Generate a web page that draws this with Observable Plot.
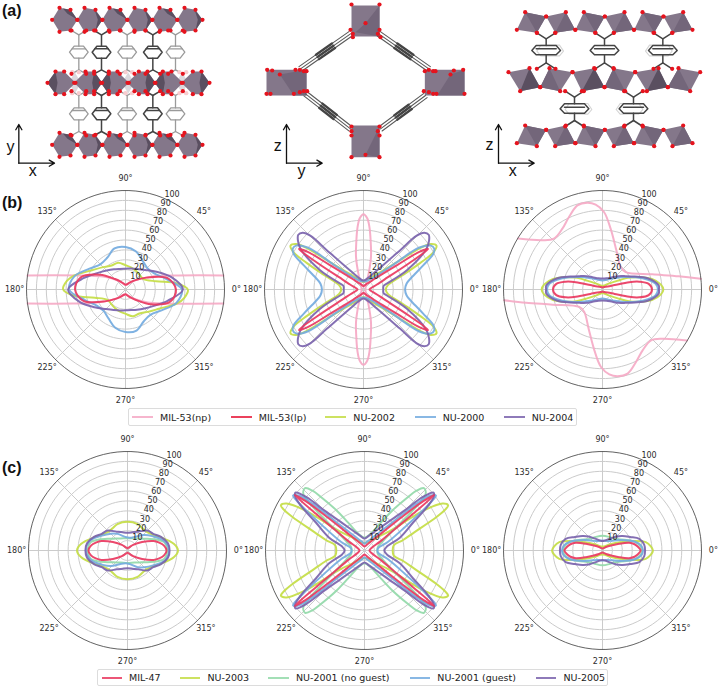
<!DOCTYPE html>
<html><head><meta charset="utf-8">
<script src="https://cdn.jsdelivr.net/npm/d3@7"></script>
<script src="https://cdn.jsdelivr.net/npm/@observablehq/plot@0.6"></script>
<style>
html,body{margin:0;padding:0;background:#fff}
#page{position:relative;width:718px;height:688px;overflow:hidden;font-family:"DejaVu Sans",sans-serif}
#page svg{position:absolute;background:transparent}
.tag{position:absolute;left:2px;font:bold 16px "Liberation Sans",sans-serif;color:#111;line-height:16px}
.legend{position:absolute;border:1px solid #dcdcdc;border-radius:2px;box-sizing:border-box;background:#fff}
.legend i{position:absolute;height:2px;top:7px;opacity:.85}
.legend span{position:absolute;top:50%;transform:translateY(-50%);font-size:9.5px;color:#222;white-space:nowrap}
</style></head><body><div id="page"></div>
<script>
// ---------- colours and legends ----------
const pink="#f5a8c4", red="#e9385f", lime="#c4dd45", blue="#74abdf", purple="#7a63ad", green="#93d9a9";
const legendB=[["MIL-53(np)",pink],["MIL-53(lp)","#e8203f"],["NU-2002",lime],["NU-2000",blue],["NU-2004",purple]];
const legendC=[["MIL-47",red],["NU-2003",lime],["NU-2001 (no guest)",green],["NU-2001 (guest)",blue],["NU-2005",purple]];

// ---------- polar readings: [angle in degrees], [radial value] ----------
// Row (b), panel 1 — half turn; the other half follows by 180° symmetry
const a15=[0,15,30,45,60,75,90,105,120,135,150,165];
const b1lp=[51,44,24,13,8,5.5,4.7,6,9,15,30,47];
const b1n2002A=[0,7,15,30,45,60,75,90,105,120,135,150,165,172], b1n2002R=[63,52,32,21,20.5,21.5,23,24.5,28,28,32,39,54,60];
const b1n2000=[57,42,33,31,34,40,43,43,37,36,42,53];
const b1n2004=[58,48,36,28,24,22,21,21.5,23.5,27,33,44];
const b1npA=[8.2,15,20,30,45,60,90,120,135,150,160,171.8];
const b1npR=[100,55,41,24,12.7,7,4.7,8,14,26,41,100];
// Row (b), panel 2 — quarter turn
const b2npA=[0,45,65,72,77,81,84.5,87,90], b2npR=[2,3,6.3,16.6,33.5,47,63,72,76];
const b2lpA=[0,10,20,25,30,32,34,36,40,45,60,75,90], b2lpR=[6,7.5,14,22,54,77,68,42,23,14,6.5,4.3,3.4];
const b2n2002A=[0,10,20,25,28,31,34,36,40,45,60,75,90], b2n2002R=[22.5,25,42,63,80,86,82,72,40,26,13,9,7.5];
const b2n2000A=[0,8,14,22,27,30,33.4,37,40,45,51,65,88], b2n2000R=[42,44,50,65,79,82.5,81,70,38,22,15,10,8];
const b2n2004A=[0,10,14,24,33,37,40,43,45.4,47,55,70,90], b2n2004R=[20,20.5,24,48,76,83,86,84,76,54,23,12,9];
// Row (b), panel 3
const b3npA=[6.2,9.8,16.9,37,51,70.5,82.4,88.9,94.6,99.9,106.6,114.8,123.4,133.7,140.7,148.9];
const b3npR=[100,78.4,52.6,29.3,29.2,42,62,78.3,86,89,88.7,80.7,73.6,71,78.5,99.5];
const b3lpA=[0,7,12,15.4,20,30,60,90], b3lpR=[50,47,38,28,13,6,3,2];
const b3n2002A=[0,5,12,18,23.6,30,45,60,90], b3n2002R=[61.5,59,51,40,30,18,8,5,3.5];
const b3n2000A=[0,6,12,20,30,45,60,90], b3n2000R=[56,54,47,36,25,16,12,9];
const b3n2004A=[0,4,14,22,30,40,51,70,90], b3n2004R=[57,57,47,35,27,21,16,12,11];
// Row (c), panel 1
const c1m47A=[0,8,14,20,30,45,60,90], c1m47R=[39.5,37,33,28,17,8,4,2.3];
const c1n2003A=[0,8,22,30,42,55,69,90], c1n2003R=[51,47.5,36,31,27.4,27,28.5,29];
const c1nogA=[0,12.8,20,30,45,60,90], c1nogR=[40,38,32,23.5,17,14,12.5];
const c1guestR=[42,38,29,23,16,13,14,19.6,24,30,39], c1guestA=[0,15,30,43,60,81,100,121,135,150,165];
const c1n2005A=[0,10,22,33,45,60,75,90], c1n2005R=[42.5,41.5,36.5,31,28.5,22,19,18];
// Row (c), panel 2
const c2m47A=[0,20,30,35,37,38.5,40,42,45,60,75,90], c2m47R=[5,7.5,18.5,36.5,60,90,78,49.5,27,8.5,5,4];
const c2n2003A=[0,10,15,20,25,27,28.4,31,34,38,45,60,90], c2n2003R=[28.5,30,40,53.5,80.6,92,96,92,72,30,20,11,7.5];
const c2nogA=[0,15,25,34.5,38,42.7,46.4,49,51,55,59.5,70,90], c2nogR=[13,14,19,33,50,84,87,80,69,50,33,18,13];
const c2guestA=[0,10,20,30,35,37.5,40,42,45,50,60,75,90], c2guestR=[13,14,25,47,75,91,86,70,41,25,14,9,7];
const c2n2005A=[0,10,20,30,35,38,40,42.5,45,50,60,75,90], c2n2005R=[20,23,38,57,78,89,91,80,57,38,23,15,12];
// Row (c), panel 3
const c3m47A=[0,6,11,16,22,30,45,60,90], c3m47R=[38.5,36,33,28,18,10,5,3,2];
const c3n2003A=[0,5,11,17,23,30,45,60,90], c3n2003R=[51,49,44.5,33,22,15,8,5,4];
const c3nogA=[0,8,15,22,30,45,60,90], c3nogR=[40,38,34,28,22,17,15.5,15];
const c3guestA=[0,8,15,22,30,45,60,90], c3guestR=[41,39,34,27,21,14,11,10];
const c3n2005A=[0,8,17.6,26,35.6,45,60,75,90], c3n2005R=[43,42.5,39,31,25,20,13.5,10.5,9.5];

// axis text
const radialTicks=[10,20,30,40,50,60,70,80,90,100];
const spokeAngles=[0,45,90,135,180,225,270,315];

// ---------- helpers for the polar panels ----------
const rad=d=>d*Math.PI/180;
const X=d=>d.r*Math.cos(rad(d.a)), Y=d=>d.r*Math.sin(rad(d.a));
function halfTurn(A,R){
  const p=A.map((a,i)=>({a,r:R[i]}));
  return [...p,...p.map(d=>({a:d.a+180,r:d.r}))];
}
function quarter(A,R){
  const A2=[...A],R2=[...R];
  for(let i=A.length-2;i>0;i--){A2.push(180-A[i]);R2.push(R[i]);}
  return halfTurn(A2,R2);
}
function arcs(A,R){
  const p=A.map((a,i)=>({a,r:R[i],k:0}));
  return [...p,...p.map(d=>({a:d.a+180,r:d.r,k:1}))];
}
const page=document.getElementById("page");
function polar(cx,cy,curves,opens){
  const ring=d3.range(0,360,4);
  const gridData=radialTicks.flatMap(t=>ring.map(a=>({a,r:t,t})));
  const marks=[
    Plot.line(gridData.filter(d=>d.t<100),{x:X,y:Y,z:"t",stroke:"#cbcbcb",strokeWidth:1,curve:"linear-closed"}),
    Plot.link(spokeAngles,{x1:0,y1:0,x2:a=>100*Math.cos(rad(a)),y2:a=>100*Math.sin(rad(a)),stroke:"#cbcbcb",strokeWidth:1}),
  ];
  for(const o of opens||[]) marks.push(Plot.line(o.d,{x:X,y:Y,z:"k",stroke:o.c,strokeWidth:2,strokeOpacity:.9,curve:"catmull-rom"}));
  for(const c of curves) marks.push(Plot.line(c.d,{x:X,y:Y,stroke:c.c,strokeWidth:2,strokeOpacity:.92,curve:"catmull-rom-closed"}));
  marks.push(
    Plot.line(ring.map(a=>({a,r:100})),{x:X,y:Y,stroke:"#3a3a3a",strokeWidth:0.8,curve:"linear-closed"}),
    Plot.text(radialTicks,{x:t=>t*Math.cos(rad(67.5)),y:t=>t*Math.sin(rad(67.5)),text:t=>String(t),textAnchor:"start",dx:1,dy:-4,fontSize:8,fill:"#2b2b2b"}),
    Plot.text(spokeAngles,{x:a=>112*Math.cos(rad(a)),y:a=>112*Math.sin(rad(a)),text:a=>a+"°",fontSize:8,fill:"#2b2b2b"})
  );
  const svg=Plot.plot({width:240,height:240,margin:0,
    x:{domain:[-121.212,121.212],axis:null},y:{domain:[-121.212,121.212],axis:null},
    style:{fontFamily:"DejaVu Sans",background:"transparent"},marks});
  svg.style.left=(cx-120)+"px"; svg.style.top=(cy-120)+"px";
  page.appendChild(svg);
}

// ---------- panel (a): structure drawings, in reference units ----------
const polyRed="#e5141e", octaLight="#84778a", octaDark="#5a4f60", octaMid="#73667a", bondDark="#444", bondGray="#9a9a9a";
const rowsTopX=[193,268,343,418,493,568], rowsMidX=[183,263,343,423,505,585];
const linkX=[235,303,380,457,525];
const axes1={ox:55,oy:488,v:"y",h:"x",vx:30,vy:438,hx:97,hy:512};
const axes2={ox:138,oy:488,v:"z",h:"y",vx:112,vy:435,hx:183,hy:510};
const axes3={ox:60,oy:488,v:"z",h:"x",vx:33,vy:432,hx:103,hy:512};

function struct(left,ax,polys,lines,atoms,ghostAtoms){
  const marks=[];
  for(const [c,group] of polys) marks.push(Plot.line(group,{x:"x",y:"y",z:"id",fill:c,stroke:"none"}));
  for(const l of lines) marks.push(Plot.line(l.d,{x:"x",y:"y",z:"id",stroke:l.c,strokeWidth:l.w}));
  if(ghostAtoms) marks.push(Plot.dot(ghostAtoms,{x:d=>d[0],y:d=>d[1],r:2.2,fill:"#f7cdd0"}));
  marks.push(Plot.dot(atoms,{x:d=>d[0],y:d=>d[1],r:2.1,fill:polyRed}));
  marks.push(
    Plot.arrow([ax],{x1:"ox",y1:"oy",x2:"ox",y2:d=>d.oy-116,stroke:"#111",strokeWidth:1.3,headLength:7,bend:0,inset:0}),
    Plot.arrow([ax],{x1:"ox",y1:"oy",x2:d=>d.ox+107,y2:"oy",stroke:"#111",strokeWidth:1.3,headLength:7,bend:0,inset:0}),
    Plot.text([ax],{x:"vx",y:"vy",text:"v",fontSize:16,fontFamily:"Liberation Sans",fill:"#111"}),
    Plot.text([ax],{x:"hx",y:"hy",text:"h",fontSize:16,fontFamily:"Liberation Sans",fill:"#111"})
  );
  const svg=Plot.plot({width:240,height:186,margin:0,x:{domain:[0,720],axis:null},y:{domain:[558,0],axis:null},
    style:{fontFamily:"DejaVu Sans",background:"transparent"},marks});
  svg.style.left=left+"px"; svg.style.top="0px";
  page.appendChild(svg);
}
let pid=0;
const poly=pts=>{const id=pid++;return pts.map(p=>({x:p[0],y:p[1],id}));};

// structure 1
(function(){
  const light=[],dark=[],ghost=[],atoms=[],ghostA=[];
  const hexT=[[-38,0],[-16,-36],[17,-30],[38,0],[17,32],[-16,36]];
  const hexM=[[-42,0],[-18,-34],[8,-34],[42,0],[8,34],[-18,34]];
  rowsTopX.forEach((x,i)=>{
    for(const y of [58,433]){
      light.push(...poly(hexT.map(o=>[x+o[0],y+o[1]])));
      dark.push(...poly((i%2?[[14,-31],[38,0],[17,32],[24,0]]:[[-6,-34],[17,-30],[38,0],[8,-18]]).map(o=>[x+o[0],y+o[1]])));
      hexT.forEach(o=>atoms.push([x+o[0],y+o[1]]));
    }
  });
  rowsMidX.forEach((x,i)=>{
    const y=247, m=i%2?-1:1;
    light.push(...poly(hexM.map(o=>[x+o[0]*m,y+o[1]])));
    dark.push(...poly([[-42,0],[-18,-34],[-12,0],[-18,34]].map(o=>[x+o[0]*m,y+o[1]])));
    hexM.forEach(o=>atoms.push([x+o[0]*m,y+o[1]]));
    if(i%2==0&&i<5){ghost.push(...poly([[x+40,215],[x+58,247],[x+40,280],[x+22,247]]));ghostA.push([x+32,215],[x+52,215],[x+32,278],[x+52,278]);}
  });
  const gray=[],blk=[];
  linkX.forEach((x,i)=>{
    const t=i%2?blk:gray;
    for(const [y,up,dn] of [[155,90,220],[340,272,405]]){
      t.push(...poly([[x-28,y],[x-14,y-18],[x+14,y-18],[x+28,y],[x+14,y+18],[x-14,y+18],[x-28,y]]));
      t.push(...poly([[x,y-18],[x,up+13]]), ...poly([[x-22,up],[x,up+13],[x+22,up]]));
      t.push(...poly([[x,y+18],[x,dn-12]]), ...poly([[x-22,dn],[x,dn-12],[x+22,dn]]));
      t.push(...poly([[x-20,y-10],[x+20,y-10]]));
      atoms.push([x-22,up],[x+22,up],[x-22,dn],[x+22,dn]);
    }
  });
  struct(0,axes1,[["#dcd8dd",ghost],[octaLight,light],[octaDark,dark]],
    [{d:gray,c:bondGray,w:1.3},{d:blk,c:bondDark,w:1.5}],atoms,ghostA);
})();

// structure 2
(function(){
  const sq=[[333,417,15,108],[78,198,208,285],[553,672,208,285],[333,417,375,470]];
  const light=sq.map(s=>poly([[s[0],s[2]],[s[1],s[2]],[s[1],s[3]],[s[0],s[3]]])).flat();
  const dark=[[[375,68],[417,15],[417,108],[345,95]],[[118,222],[198,208],[198,285],[160,285]],[[630,222],[672,208],[672,285],[590,285]],[[375,463],[417,378],[417,470]]].map(poly).flat();
  const atoms=[[333,12],[417,12],[375,68],[330,88],[337,100],[337,110],[417,88],[412,100],[420,110],
    [80,208],[118,222],[78,280],[165,208],[178,208],[190,212],[198,212],[160,280],[178,275],[190,272],[200,272],[95,210],[90,280],
    [668,208],[630,222],[672,280],[553,212],[565,208],[578,212],[585,212],[550,272],[565,275],[578,280],[588,280],[640,210],
    [333,378],[333,392],[333,405],[417,378],[412,392],[417,405],[333,470],[417,470],[375,463]];
  const ends=[[330,100,180,205],[415,100,565,205],[195,280,330,385],[555,285,420,385]];
  const thin=[],thick=[];
  for(const [x1,y1,x2,y2] of ends){
    const dx=x2-x1,dy=y2-y1,l=Math.hypot(dx,dy),nx=-dy/l,ny=dx/l;
    for(const k of [-8,0,8]){
      thin.push(...poly([[x1+nx*k,y1+ny*k],[x2+nx*k,y2+ny*k]]));
      thick.push(...poly([[x1+dx*.34+nx*k,y1+dy*.34+ny*k],[x1+dx*.66+nx*k,y1+dy*.66+ny*k]]));
    }
  }
  struct(240,axes2,[[octaLight,light],[octaMid,dark]],[{d:thin,c:"#5a5a5a",w:1.1},{d:thick,c:"#444",w:2.4}],atoms);
})();

// structure 3
(function(){
  const quadsTop=[[[140,35],[203,48],[175,97],[115,88]],[[203,48],[262,35],[290,88],[230,97]]];
  const quadsMid=[[[90,215],[153,203],[185,260],[125,272]],[[213,203],[282,215],[245,272],[185,260]],
    [[282,215],[347,203],[378,260],[310,272]],[[405,203],[470,215],[440,272],[378,260]],
    [[470,215],[540,203],[568,260],[505,272]],[[600,203],[665,215],[635,272],[568,260]]];
  const light=[],mid=[],dark=[],atoms=[],black=[],faint=[];
  for(const off of [0,176,352]) for(const yo of [0,340]) quadsTop.forEach((q,j)=>{
    const p=q.map(v=>[v[0]+off,v[1]+yo]);
    light.push(...poly(p));
    mid.push(...poly(j?[p[1],p[2],p[3]]:[p[0],p[1],p[2]]));
    p.forEach(v=>atoms.push(v));
  });
  quadsMid.forEach((q,j)=>{
    light.push(...poly(q));
    (j%2?mid:dark).push(...poly(j%2?[q[0],q[2],q[3]]:[q[1],q[2],q[3]]));
    q.forEach(v=>atoms.push(v));
  });
  const rings=[[203,150,97,205,1],[378,150,97,205,0],[553,150,97,205,-1],[288,325,272,378,1],[465,325,272,378,-1]];
  for(const [x,y,up,dn,g] of rings){
    if(g) faint.push(...poly([[x+g*12-40,y+2],[x+g*12-28,y-16],[x+g*12+28,y-16],[x+g*12+40,y+2],[x+g*12+28,y+16],[x+g*12-28,y+16],[x+g*12-40,y+2]]));
    black.push(...poly([[x-43,y],[x-30,y-15],[x+30,y-15],[x+43,y],[x+30,y+13],[x-30,y+13],[x-43,y]]));
    black.push(...poly([[x-30,y-5],[x+30,y-5]]));
    black.push(...poly([[x,y-15],[x,up+18]]),...poly([[x-28,up],[x,up+18],[x+28,up]]));
    black.push(...poly([[x,y+13],[x,dn-18]]),...poly([[x-28,dn],[x,dn-18],[x+28,dn]]));
    atoms.push([x-28,up],[x+28,up],[x-28,dn],[x+28,dn]);
  }
  struct(478,axes3,[[octaLight,light],[octaMid,mid],[octaDark,dark]],[{d:faint,c:"#d4d4d4",w:1.1},{d:black,c:bondDark,w:1.5}],atoms);
})();

// ---------- panels (b) and (c) ----------
polar(124.8,289,[
  {d:halfTurn(b1n2002A,b1n2002R),c:lime},{d:halfTurn(a15,b1n2000),c:blue},{d:halfTurn(a15,b1n2004),c:purple},{d:halfTurn(a15,b1lp),c:red}
],[{d:arcs(b1npA,b1npR),c:pink}]);
polar(363.3,289,[
  {d:quarter(b2npA,b2npR),c:pink},{d:quarter(b2n2002A,b2n2002R),c:lime},{d:quarter(b2n2000A,b2n2000R),c:blue},{d:quarter(b2n2004A,b2n2004R),c:purple},{d:quarter(b2lpA,b2lpR),c:red}
]);
polar(601.5,289,[
  {d:quarter(b3n2002A,b3n2002R),c:lime},{d:quarter(b3n2000A,b3n2000R),c:blue},{d:quarter(b3n2004A,b3n2004R),c:purple},{d:quarter(b3lpA,b3lpR),c:red}
],[{d:arcs(b3npA,b3npR),c:pink}]);
polar(126.5,550,[
  {d:quarter(c1n2003A,c1n2003R),c:lime},{d:quarter(c1nogA,c1nogR),c:green},{d:halfTurn(c1guestA,c1guestR),c:blue},{d:quarter(c1m47A,c1m47R),c:red},{d:quarter(c1n2005A,c1n2005R),c:purple}
]);
polar(363.5,550,[
  {d:quarter(c2n2003A,c2n2003R),c:lime},{d:quarter(c2nogA,c2nogR),c:green},{d:quarter(c2guestA,c2guestR),c:blue},{d:quarter(c2n2005A,c2n2005R),c:purple},{d:quarter(c2m47A,c2m47R),c:red}
]);
polar(601.5,550,[
  {d:quarter(c3n2003A,c3n2003R),c:lime},{d:quarter(c3nogA,c3nogR),c:green},{d:quarter(c3guestA,c3guestR),c:blue},{d:quarter(c3m47A,c3m47R),c:red},{d:quarter(c3n2005A,c3n2005R),c:purple}
]);

// ---------- tags and legends ----------
[["(a)",3],["(b)",195],["(c)",460]].forEach(([t,y])=>{
  const d=document.createElement("div");d.className="tag";d.textContent=t;d.style.top=y+"px";page.appendChild(d);
});
function legend(entries,left,top,w,h,lineX,textX){
  const box=document.createElement("div");box.className="legend";
  box.style.cssText=`left:${left}px;top:${top}px;width:${w}px;height:${h}px`;
  entries.forEach(([name,c],i)=>{
    const l=document.createElement("i");l.style.cssText=`left:${lineX[i]-left}px;width:20.5px;background:${c}`;
    const s=document.createElement("span");s.textContent=name;s.style.left=(textX[i]-left)+"px";
    box.append(l,s);
  });
  page.appendChild(box);
}
legend(legendB,127.5,408,449.5,18,[131,230,324.3,414,503.3],[159,257.7,352.3,441.7,530.7]);
legend(legendC,97.3,668.5,510.7,17.5,[100.7,178.8,267.3,408.6,535],[128,206.5,295,436.3,562.4]);
</script></body></html>
